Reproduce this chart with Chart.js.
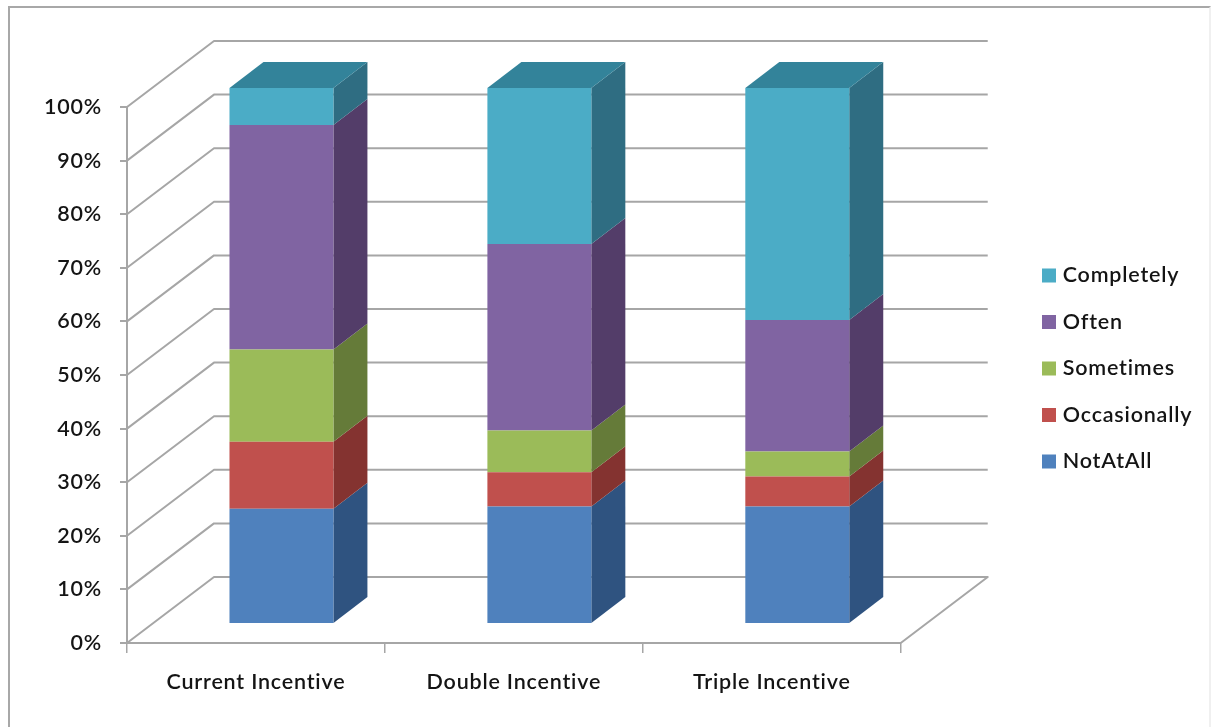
<!DOCTYPE html>
<html>
<head>
<meta charset="utf-8">
<title>Incentive responses</title>
<script src="https://cdn.jsdelivr.net/npm/chart.js@4"></script>
<style>
  html, body { margin: 0; padding: 0; background: #fff; overflow: hidden; }
  #frame { position: absolute; left: 8px; top: 6px; width: 1199px; height: 730px; border: 2px solid #a8a8a8; border-right-color: #f0f0f0; }
  #chart { position: absolute; left: 0; top: 0; }
</style>
</head>
<body>
<div id="frame"></div>
<canvas id="chart" width="1213" height="727"></canvas>
<script>
const categories = ['Current Incentive', 'Double Incentive', 'Triple Incentive'];
const notAtAll = [21.5, 21.9, 21.9];
const occasionally = [12.5, 6.4, 5.6];
const sometimes = [17.2, 7.8, 4.7];
const often = [41.9, 34.8, 24.5];
const completely = [6.9, 29.1, 43.3];

const gridColor = '#a6a6a6';
const textColor = '#141414';
const labelFont = { family: 'Lato', size: 21.5, weight: '600' };

// front, side and top face colours for each series
const faces = {
    NotAtAll: ['#4f81bd', '#2f5380'],
    Occasionally: ['#c0504d', '#843330'],
    Sometimes: ['#9bbb59', '#657b39'],
    Often: ['#8064a2', '#533d69'],
    Completely: ['#4bacc6', '#2f6d82', '#33839a']
};

// how far the walls sit behind the axes, and how deep each bar is
const wallDx = 87, wallDy = -66;
const barDx = 25.5, barDy = -19;
const depthDx = 34, depthDy = -26;

function fillPoly(ctx, pts, color) {
    ctx.fillStyle = color;
    ctx.beginPath();
    pts.forEach((p, i) => i ? ctx.lineTo(p[0], p[1]) : ctx.moveTo(p[0], p[1]));
    ctx.closePath();
    ctx.fill();
}

const box3d = {
    id: 'box3d',
    afterInit(chart) {
        // has to wait until the canvas is sized, sizing resets the context
        chart.ctx.letterSpacing = '0.8px';
    },
    beforeDatasetsDraw(chart) {
        const ctx = chart.ctx;
        const { left, right } = chart.chartArea;
        const yScale = chart.scales.y;

        // side wall and back wall lines
        ctx.save();
        ctx.strokeStyle = gridColor;
        ctx.lineWidth = 2;
        ctx.lineJoin = 'round';
        yScale.ticks.forEach(t => {
            const py = yScale.getPixelForValue(t.value);
            ctx.beginPath();
            ctx.moveTo(left, py);
            ctx.lineTo(left + wallDx, py + wallDy);
            ctx.lineTo(right + wallDx, py + wallDy);
            if (t.value === 0) ctx.lineTo(right, py);
            ctx.stroke();
        });
        ctx.restore();

        // bars sit part way into the floor
        ctx.save();
        ctx.translate(barDx, barDy);
        chart.data.datasets.forEach((ds, i) => {
            const colors = faces[ds.label];
            chart.getDatasetMeta(i).data.forEach(bar => {
                const l = bar.x - bar.width / 2, r = bar.x + bar.width / 2;
                fillPoly(ctx, [[r, bar.y], [r + depthDx, bar.y + depthDy], [r + depthDx, bar.base + depthDy], [r, bar.base]], colors[1]);
                if (i === chart.data.datasets.length - 1) {
                    fillPoly(ctx, [[l, bar.y], [l + depthDx, bar.y + depthDy], [r + depthDx, bar.y + depthDy], [r, bar.y]], colors[2]);
                }
            });
        });
    },
    afterDatasetsDraw(chart) {
        chart.ctx.restore();
    },
    afterLayout(chart) {
        // legend floats clear of the plot, right of the back wall
        const legend = chart.legend;
        const dx = 1021 - legend.left;
        const dy = 368.5 - (legend.top + legend.bottom) / 2;
        legend.left += dx;
        legend.right += dx;
        legend.top += dy;
        legend.bottom += dy;
    }
};

function series(label, data) {
    return { label, data, backgroundColor: faces[label][0], borderWidth: 0, clip: false };
}

new Chart(document.getElementById('chart'), {
    type: 'bar',
    data: {
        labels: categories,
        datasets: [
            series('NotAtAll', notAtAll),
            series('Occasionally', occasionally),
            series('Sometimes', sometimes),
            series('Often', often),
            series('Completely', completely)
        ]
    },
    options: {
        responsive: false,
        animation: false,
        events: [],
        layout: { padding: { top: 107, right: 131, left: 0, bottom: 0 } },
        barPercentage: 0.403,
        categoryPercentage: 1,
        scales: {
            x: {
                stacked: true,
                afterFit(scale) { scale.height = 84; },
                border: { color: gridColor, width: 2 },
                grid: { drawOnChartArea: false, color: gridColor, lineWidth: 1.5, tickLength: 10 },
                ticks: { color: textColor, font: labelFont, padding: 16, maxRotation: 0 }
            },
            y: {
                stacked: true,
                min: 0,
                max: 100,
                afterFit(scale) { scale.width = 127; },
                border: { color: gridColor, width: 2 },
                grid: { drawOnChartArea: false, color: gridColor, lineWidth: 2, tickLength: 7 },
                ticks: {
                    stepSize: 10,
                    color: textColor,
                    font: labelFont,
                    padding: 18,
                    callback: v => v + '%'
                }
            }
        },
        plugins: {
            tooltip: { enabled: false },
            legend: {
                position: 'right',
                reverse: true,
                labels: {
                    color: textColor,
                    font: labelFont,
                    usePointStyle: true,
                    pointStyle: 'rect',
                    boxWidth: 6,
                    boxHeight: 14,
                    padding: 25
                }
            }
        }
    },
    plugins: [box3d]
});
</script>
</body>
</html>
